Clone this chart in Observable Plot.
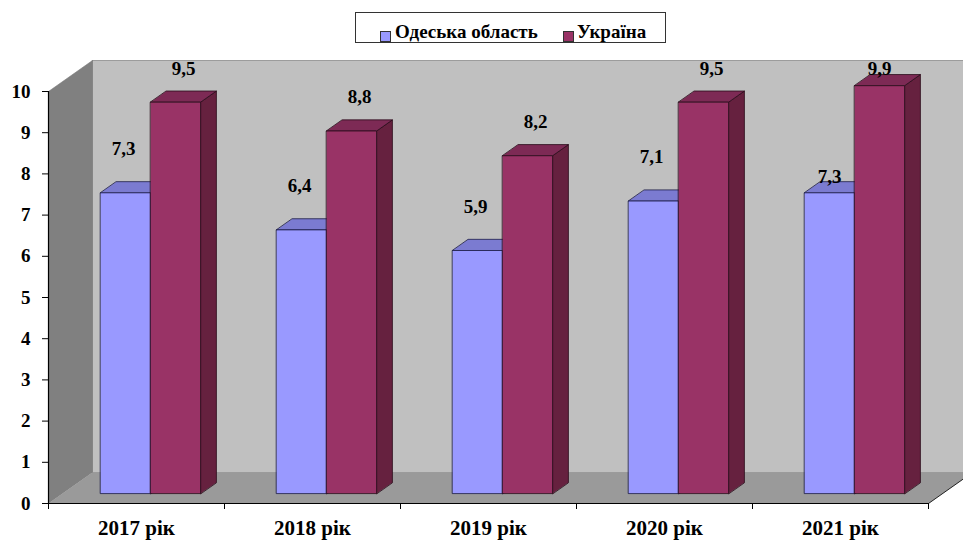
<!DOCTYPE html>
<html>
<head>
<meta charset="utf-8">
<script src="https://cdn.jsdelivr.net/npm/d3@7"></script>
<script src="https://cdn.jsdelivr.net/npm/@observablehq/plot@0.6"></script>
<style>
  html, body { margin: 0; padding: 0; background: #fff; }
  #wrap { position: relative; width: 963px; height: 540px; overflow: hidden; }
  #chart { position: absolute; left: 0; top: 0; }
  #legend { position: absolute; left: 355px; top: 12px; width: 309px; height: 29px;
    border: 1.5px solid #333; background: #fff;
    font-family: "Liberation Serif", "Times New Roman", serif; font-weight: bold; font-size: 19px; color: #000; }
  #legend .sw { position: absolute; top: 18px; width: 9px; height: 9px; border: 1px solid #333; }
  #legend .tx { position: absolute; top: 8px; white-space: nowrap; line-height: 21px; }
</style>
</head>
<body>
<div id="wrap">
  <div id="chart"></div>
  <div id="legend"></div>
</div>
<script>
// ---- data ----
const categories = ["2017 рік", "2018 рік", "2019 рік", "2020 рік", "2021 рік"];
const seriesNames = ["Одеська область", "Україна"];
const odesa = [7.3, 6.4, 5.9, 7.1, 7.3];
const ukraine = [9.5, 8.8, 8.2, 9.5, 9.9];
const yTicks = [0, 1, 2, 3, 4, 5, 6, 7, 8, 9, 10];

// ---- styling / geometry ----
const W = 963, H = 540;
const mL = 48, mR = 35, mT = 91, mB = 37;
const pxPerX = (W - mL - mR) / categories.length; // px per category unit
const pxPerY = (H - mT - mB) / 10;               // px per value unit
const DX = 44 / pxPerX, DY = 31 / pxPerY;        // depth projection (z = 0..1)
const barW = 50 / pxPerX;
const z0 = 0.32, z1 = 0.68;
const font = "'Liberation Serif', 'Times New Roman', serif";

const seriesStyle = [
  {front: "#9999ff", top: "#7b7bd1", side: "#6666b8", stroke: "#1c1c48"},
  {front: "#993366", top: "#7d2a55", side: "#66213f", stroke: "#2a0c1a"}
];
const values = [odesa, ukraine];

const P = (x, v, z) => ({x: x + z * DX, y: v + z * DY});
const nCat = categories.length;

function poly(pts, fill, stroke, sw) {
  return Plot.line(pts.map(p => P(...p)), {x: "x", y: "y", curve: "linear-closed",
    fill, stroke: stroke || "none", strokeWidth: sw || 0.8});
}

const marks = [];
// walls
marks.push(poly([[0,0,1],[nCat,0,1],[nCat,10,1],[0,10,1]], "#c0c0c0", "#8a8a8a", 0.8));
marks.push(poly([[0,0,0],[0,10,0],[0,10,1],[0,0,1]], "#808080", "#777", 0.6));
marks.push(poly([[0,0,0],[nCat,0,0],[nCat,0,1],[0,0,1]], "#9a9a9a", "none"));
marks.push(Plot.line([P(nCat,0,0), P(nCat,0,1)], {x: "x", y: "y", stroke: "#222", strokeWidth: 1}));

// bars
for (let i = 0; i < nCat; i++) {
  for (let s = 0; s < 2; s++) {
    const v = values[s][i];
    const st = seriesStyle[s];
    const x1 = i + 0.5 - barW + s * barW, x2 = x1 + barW;
    marks.push(poly([[x2,0,z0],[x2,v,z0],[x2,v,z1],[x2,0,z1]], st.side, st.stroke));
    marks.push(poly([[x1,v,z0],[x2,v,z0],[x2,v,z1],[x1,v,z1]], st.top, st.stroke));
    marks.push(poly([[x1,0,z0],[x2,0,z0],[x2,v,z0],[x1,v,z0]], st.front, st.stroke));
  }
}

// data labels
const k = 1 / pxPerY;
const maxLabelY = (H - mB - 68) * k;
const limitY = (H - mB - 62) * k;
const labels = [];
for (let i = 0; i < nCat; i++) {
  const topR = ukraine[i] + z0 * DY;
  const clamped = topR + 34 * k > limitY;
  for (let s = 0; s < 2; s++) {
    const v = values[s][i];
    const x1 = i + 0.5 - barW + s * barW;
    const cx = x1 + barW / 2 + z0 * DX;
    const top = v + z0 * DY;
    let y, dxp;
    if (clamped) { y = s === 0 ? top + 16 * k : maxLabelY; dxp = 0; }
    else { y = s === 0 ? top + 44 * k : Math.min(top + 34 * k, maxLabelY); dxp = s === 0 ? -2 : 8; }
    labels.push({x: cx + dxp / pxPerX, y, text: d3.format(".1f")(v).replace(".", ",")});
  }
}

marks.push(Plot.text(labels, {x: "x", y: "y", text: "text", lineAnchor: "middle",
  fontSize: 19, fontWeight: "bold", fill: "#000", fontFamily: font}));

// axes
marks.push(Plot.ruleX([0], {y1: 0, y2: 10, stroke: "#000", strokeWidth: 1.2}));
marks.push(Plot.ruleY([0], {x1: 0, x2: nCat, stroke: "#000", strokeWidth: 1.2}));
marks.push(Plot.axisY({ticks: yTicks, tickSize: 6, tickPadding: 12, label: null,
  fontSize: 19, fontWeight: "bold", stroke: "#000", fontFamily: font}));
marks.push(Plot.axisX({ticks: d3.range(nCat + 1), tickSize: 6, tickFormat: () => "", label: null, stroke: "#000"}));
marks.push(Plot.text(categories, {x: (d, i) => i + 0.5, y: 0, dy: 25, text: d => d,
  lineAnchor: "middle", fontSize: 21, fontWeight: "bold", fill: "#000", fontFamily: font}));

const chart = Plot.plot({
  width: W, height: H,
  marginLeft: mL, marginRight: mR, marginTop: mT, marginBottom: mB,
  x: {type: "linear", domain: [0, nCat], axis: null},
  y: {type: "linear", domain: [0, 10], axis: null},
  style: {fontFamily: font, background: "transparent", overflow: "visible"},
  marks
});
document.getElementById("chart").appendChild(chart);

// legend (HTML)
const lg = document.getElementById("legend");
const legendPos = [{sw: 24, tx: 39}, {sw: 207, tx: 221}];
seriesNames.forEach((name, s) => {
  const sq = document.createElement("div");
  sq.className = "sw";
  sq.style.left = legendPos[s].sw + "px";
  sq.style.background = seriesStyle[s].front;
  lg.appendChild(sq);
  const tx = document.createElement("div");
  tx.className = "tx";
  tx.style.left = legendPos[s].tx + "px";
  tx.textContent = name;
  lg.appendChild(tx);
});
</script>
</body>
</html>
